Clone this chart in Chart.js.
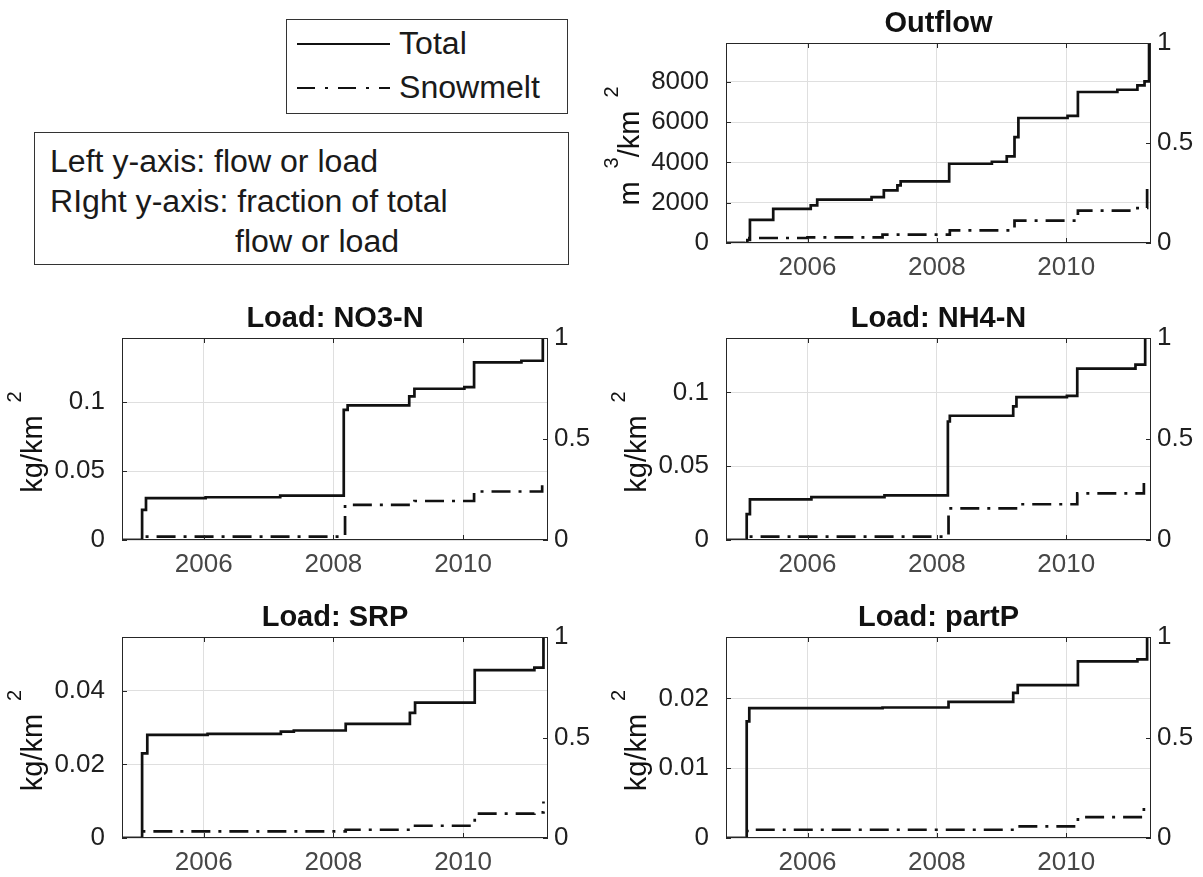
<!DOCTYPE html>
<html>
<head>
<meta charset="utf-8">
<script src="https://cdn.jsdelivr.net/npm/chart.js@4/dist/chart.umd.min.js"></script>
<style>
  body { margin: 0; background: #fff; width: 1203px; height: 877px; position: relative; overflow: hidden;
         font-family: 'Liberation Sans', Arial, Helvetica, sans-serif; }
  canvas { position: absolute; }
  .box { position: absolute; border: 1.5px solid #333; box-sizing: border-box; }
  .txt { position: absolute; font-size: 31px; line-height: 40px; color: #1a1a1a; white-space: pre;
         transform: scaleX(1.035); transform-origin: left center; }
</style>
</head>
<body>

<!-- leyenda de figura -->
<div class="box" style="left:286px;top:19px;width:282px;height:95px;"></div>
<svg style="position:absolute;left:0;top:0" width="600" height="120">
  <line x1="297" y1="44" x2="390" y2="44" stroke="#111" stroke-width="2"/>
  <line x1="297" y1="88" x2="390" y2="88" stroke="#111" stroke-width="2" stroke-dasharray="18 10 3 10"/>
</svg>
<span class="txt" style="left:399px;top:24px">Total</span>
<span class="txt" style="left:399px;top:68px">Snowmelt</span>

<!-- nota de ejes -->
<div class="box" style="left:34px;top:132px;width:535px;height:133px;"></div>
<span class="txt" style="left:50px;top:142px">Left y-axis: flow or load</span>
<span class="txt" style="left:50px;top:182px">RIght y-axis: fraction of total</span>
<span class="txt" style="left:235px;top:222px">flow or load</span>

<canvas id="cOutflow"></canvas>
<canvas id="cNO3"></canvas>
<canvas id="cNH4"></canvas>
<canvas id="cSRP"></canvas>
<canvas id="cPartP"></canvas>

<script>
// --- DATOS ---
const xTickYears = [2006, 2008, 2010];
const fractionTicks = [0, 0.5, 1];

// Outflow (m3/km2) y fracción de deshielo
const outflowTotalX = [2004.74, 2005.07, 2005.11, 2005.47, 2006.05, 2006.15, 2006.99, 2007.18, 2007.39, 2007.44, 2008.19, 2008.85, 2009.08, 2009.20, 2009.26, 2010.02, 2010.18, 2010.79, 2011.10, 2011.21, 2011.28];
const outflowTotalY = [0, 150, 1150, 1690, 1870, 2150, 2280, 2610, 2860, 3060, 3930, 4030, 4300, 5250, 6200, 6310, 7490, 7600, 7820, 8020, 9920];
const outflowSnowX = [2004.74, 2005.07, 2006.00, 2007.16, 2008.20, 2009.20, 2010.18, 2011.10, 2011.25];
const outflowSnowY = [0, 0.025, 0.028, 0.042, 0.063, 0.112, 0.162, 0.175, 0.275];
const outflowTicks = [0, 2000, 4000, 6000, 8000];

// Load: NO3-N
const no3TotalX = [2004.74, 2005.05, 2005.11, 2006.03, 2007.18, 2008.16, 2008.22, 2009.17, 2009.25, 2010.02, 2010.17, 2010.90, 2011.23];
const no3TotalY = [0, 0.0218, 0.0303, 0.0310, 0.0322, 0.0944, 0.0976, 0.1041, 0.1097, 0.1109, 0.1288, 0.1300, 0.1465];
const no3SnowX = [2004.74, 2005.08, 2008.18, 2009.25, 2010.17, 2011.22];
const no3SnowY = [0, 0.017, 0.174, 0.193, 0.240, 0.306];
const no3Ticks = [0, 0.05, 0.1];

// Load: NH4-N
const nh4TotalX = [2004.74, 2005.06, 2005.11, 2006.06, 2007.19, 2008.17, 2008.20, 2009.18, 2009.23, 2010.01, 2010.17, 2011.07, 2011.22];
const nh4TotalY = [0, 0.0176, 0.0276, 0.0290, 0.0303, 0.0803, 0.0842, 0.0905, 0.0968, 0.0977, 0.1161, 0.1188, 0.1369];
const nh4SnowX = [2004.74, 2005.08, 2008.18, 2009.25, 2010.17, 2011.20];
const nh4SnowY = [0, 0.017, 0.157, 0.177, 0.231, 0.306];
const nh4Ticks = [0, 0.05, 0.1];

// Load: SRP
const srpTotalX = [2004.74, 2005.05, 2005.13, 2006.06, 2007.19, 2007.39, 2008.19, 2009.18, 2009.26, 2010.18, 2011.10, 2011.24];
const srpTotalY = [0, 0.0230, 0.0280, 0.0283, 0.0289, 0.0292, 0.0310, 0.0340, 0.0368, 0.0456, 0.0463, 0.0546];
const srpSnowX = [2004.74, 2005.06, 2008.19, 2009.26, 2010.18, 2011.10, 2011.24];
const srpSnowY = [0, 0.033, 0.041, 0.061, 0.121, 0.127, 0.182];
const srpTicks = [0, 0.02, 0.04];

// Load: partP
const partPTotalX = [2004.74, 2005.06, 2005.10, 2007.16, 2008.18, 2009.18, 2009.25, 2010.18, 2011.10, 2011.25];
const partPTotalY = [0, 0.0167, 0.0186, 0.0187, 0.0195, 0.0208, 0.0219, 0.0253, 0.0256, 0.0288];
const partPSnowX = [2004.74, 2005.07, 2009.25, 2010.18, 2011.20];
const partPSnowY = [0, 0.041, 0.058, 0.104, 0.165];
const partPTicks = [0, 0.01, 0.02];

// unidades del eje izquierdo: [texto, superíndice]
const flowUnit = [['m', false], ['3', true], ['/km', false], ['2', true]];
const loadUnit = [['kg/km', false], ['2', true]];

const X_MIN = 2004.74;
const X_MAX = 2011.31;

// --- ESTILO ---
const FONT = "'Liberation Sans', Arial, Helvetica, sans-serif";
const AXIS_COLOR = '#262626';
const GRID_COLOR = '#dfdfdf';
Chart.defaults.font.family = FONT;

// Caja, marcas hacia adentro, título y etiqueta con superíndices (estilo MATLAB)
const matlabAxes = {
    id: 'matlabAxes',
    afterDatasetsDraw(chart, args, opts) {
        const { ctx, chartArea: a, scales } = chart;
        ctx.save();
        ctx.strokeStyle = AXIS_COLOR;
        ctx.lineWidth = 1;
        ctx.beginPath();
        scales.x.ticks.forEach(t => {
            const px = Math.round(scales.x.getPixelForValue(t.value)) + 0.5;
            ctx.moveTo(px, a.bottom); ctx.lineTo(px, a.bottom - 5);
            ctx.moveTo(px, a.top); ctx.lineTo(px, a.top + 5);
        });
        scales.y.ticks.forEach(t => {
            const py = Math.round(scales.y.getPixelForValue(t.value)) + 0.5;
            ctx.moveTo(a.left, py); ctx.lineTo(a.left + 5, py);
        });
        scales.y1.ticks.forEach(t => {
            const py = Math.round(scales.y1.getPixelForValue(t.value)) + 0.5;
            ctx.moveTo(a.right, py); ctx.lineTo(a.right - 5, py);
        });
        ctx.stroke();
        ctx.strokeRect(a.left + 0.5, a.top + 0.5, a.width - 1, a.height - 1);

        // título
        ctx.fillStyle = '#111';
        ctx.font = 'bold 29px ' + FONT;
        ctx.textAlign = 'center';
        ctx.textBaseline = 'alphabetic';
        ctx.fillText(opts.title, (a.left + a.right) / 2, a.top - 11);

        // etiqueta del eje y, a la izquierda de la etiqueta de marca más ancha
        ctx.font = '26px ' + FONT;
        const widest = Math.max(...scales.y.ticks.map(t => ctx.measureText(String(t.value)).width));
        const base = a.left - 17 - widest - 12;
        const parts = opts.unit;
        const sizes = parts.map(([txt, sup]) => {
            ctx.font = (sup ? '20px ' : '29px ') + FONT;
            return ctx.measureText(txt).width + (sup ? 13 : 0);
        });
        const total = sizes.reduce((s, w) => s + w, 0);
        ctx.translate(base, (a.top + a.bottom) / 2 + 3);
        ctx.rotate(-Math.PI / 2);
        ctx.textAlign = 'left';
        let pos = -total / 2;
        parts.forEach(([txt, sup], i) => {
            ctx.font = (sup ? '20px ' : '29px ') + FONT;
            ctx.fillText(txt, pos + (sup ? 13 : 0), sup ? -21 : 0);
            pos += sizes[i];
        });
        ctx.restore();
    }
};

function toPoints(xs, ys) {
    return xs.map((x, i) => ({ x: x, y: ys[i] }));
}

function crearPanel(p) {
    const LW = p.leftW, RW = 52, PT = p.padTop, XH = p.axisH;
    const w = LW + (p.right - p.left) + RW;
    const h = PT + (p.bottom - p.top) + XH;
    const canvas = document.getElementById(p.id);
    canvas.width = w; canvas.height = h;
    canvas.style.width = w + 'px'; canvas.style.height = h + 'px';
    canvas.style.left = (p.left - LW) + 'px';
    canvas.style.top = (p.top - PT) + 'px';

    const fixTicks = vals => scale => { scale.ticks = vals.map(v => ({ value: v })); };

    new Chart(canvas, {
        type: 'line',
        data: {
            datasets: [
                {
                    label: 'Snowmelt',
                    data: toPoints(p.snowX, p.snowY),
                    yAxisID: 'y1',
                    borderColor: '#111',
                    borderWidth: 2.7,
                    borderDash: [19, 8, 3, 8],
                    pointRadius: 0,
                    stepped: true,
                    fill: false
                },
                {
                    label: 'Total',
                    data: toPoints(p.totalX, p.totalY),
                    yAxisID: 'y',
                    borderColor: '#111',
                    borderWidth: 2.7,
                    pointRadius: 0,
                    stepped: true,
                    fill: false
                }
            ]
        },
        options: {
            responsive: false,
            animation: false,
            devicePixelRatio: 1,
            layout: { padding: { top: PT, left: 0, right: 0, bottom: 0 } },
            plugins: {
                legend: { display: false },
                title: { display: false },
                tooltip: { enabled: false },
                matlabAxes: { title: p.title, unit: p.unit }
            },
            scales: {
                x: {
                    type: 'linear',
                    min: X_MIN, max: X_MAX,
                    afterBuildTicks: fixTicks(xTickYears),
                    afterFit: s => { s.height = XH; },
                    grid: { color: GRID_COLOR, drawTicks: false },
                    border: { display: false },
                    ticks: { font: { size: 26 }, color: '#474747', padding: 9, maxRotation: 0, autoSkip: false,
                             callback: v => String(v) }
                },
                y: {
                    position: 'left',
                    min: 0, max: Math.max(...p.totalY),
                    afterBuildTicks: fixTicks(p.ticks),
                    afterFit: s => { s.width = LW; },
                    grid: { color: GRID_COLOR, drawTicks: false },
                    border: { display: false },
                    ticks: { font: { size: 26 }, color: '#1f1f1f', padding: 17, autoSkip: false,
                             callback: v => String(v) }
                },
                y1: {
                    position: 'right',
                    min: 0, max: 1,
                    afterBuildTicks: fixTicks(fractionTicks),
                    afterFit: s => { s.width = RW; },
                    grid: { display: false, drawTicks: false },
                    border: { display: false },
                    ticks: { font: { size: 26 }, color: '#1f1f1f', padding: 6, autoSkip: false,
                             callback: v => String(v) }
                }
            }
        },
        plugins: [matlabAxes]
    });
}

document.addEventListener('DOMContentLoaded', function() {
    crearPanel({ id: 'cOutflow', title: 'Outflow', unit: flowUnit,
        totalX: outflowTotalX, totalY: outflowTotalY, snowX: outflowSnowX, snowY: outflowSnowY, ticks: outflowTicks,
        left: 726, right: 1151, top: 43, bottom: 243, leftW: 140, padTop: 43, axisH: 45 });
    crearPanel({ id: 'cNO3', title: 'Load: NO3-N', unit: loadUnit,
        totalX: no3TotalX, totalY: no3TotalY, snowX: no3SnowX, snowY: no3SnowY, ticks: no3Ticks,
        left: 122, right: 548, top: 338, bottom: 540, leftW: 120, padTop: 45, axisH: 45 });
    crearPanel({ id: 'cNH4', title: 'Load: NH4-N', unit: loadUnit,
        totalX: nh4TotalX, totalY: nh4TotalY, snowX: nh4SnowX, snowY: nh4SnowY, ticks: nh4Ticks,
        left: 726, right: 1151, top: 338, bottom: 540, leftW: 120, padTop: 45, axisH: 45 });
    crearPanel({ id: 'cSRP', title: 'Load: SRP', unit: loadUnit,
        totalX: srpTotalX, totalY: srpTotalY, snowX: srpSnowX, snowY: srpSnowY, ticks: srpTicks,
        left: 122, right: 548, top: 637, bottom: 838, leftW: 120, padTop: 45, axisH: 39 });
    crearPanel({ id: 'cPartP', title: 'Load: partP', unit: loadUnit,
        totalX: partPTotalX, totalY: partPTotalY, snowX: partPSnowX, snowY: partPSnowY, ticks: partPTicks,
        left: 726, right: 1151, top: 637, bottom: 838, leftW: 120, padTop: 45, axisH: 39 });
});
</script>
</body>
</html>
